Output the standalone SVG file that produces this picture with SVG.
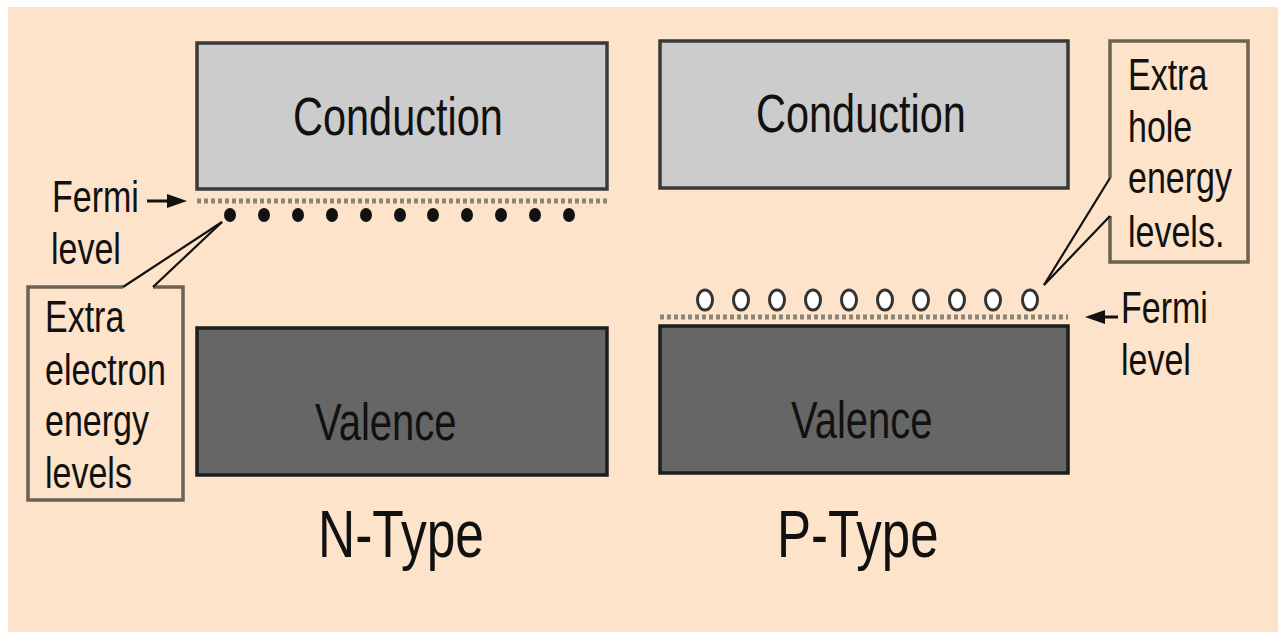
<svg xmlns="http://www.w3.org/2000/svg" width="1278" height="632" viewBox="0 0 1278 632">
<style>
  .t{font-family:"Liberation Sans",Arial,Helvetica,sans-serif;fill:#111}
  .cond{fill:#cccccc;stroke:#3a3a3a;stroke-width:3.5}
  .val{fill:#666666;stroke:#1e1e1e;stroke-width:3.5}
  .fermi{stroke:#8c8474;stroke-width:5;stroke-dasharray:4 3;fill:none}
  .lbl{fill:none;stroke:#6a6252;stroke-width:3.5}
  .lead{stroke:#111;stroke-width:2.2;fill:none}
  .el{fill:#111}
  .hole{fill:#ffffff;stroke:#333;stroke-width:3}
</style>
<rect x="0" y="0" width="1278" height="632" fill="#ffffff"/>
<rect x="8" y="7" width="1270" height="625" fill="#fde3c9"/>

<g id="n-conduction">
  <rect class="cond" x="197" y="43" width="410" height="146"/>
  <text class="t" font-size="41.5" transform="translate(293,135) scale(1,1.3)">Conduction</text>
</g>
<g id="n-valence">
  <rect class="val" x="197" y="328" width="410" height="147"/>
  <text class="t" font-size="40" transform="translate(315,440) scale(1,1.3)" fill="#1a1a1a">Valence</text>
</g>
<g id="n-fermi">
  <line class="fermi" x1="197" y1="201" x2="607" y2="201"/>
  <text class="t" font-size="34" transform="translate(52,212) scale(1,1.3)">Fermi</text>
  <text class="t" font-size="34" transform="translate(51,264) scale(1,1.3)">level</text>
</g>
<g id="n-electrons">
  <ellipse class="el" cx="230" cy="215" rx="6" ry="7"/>
  <ellipse class="el" cx="264" cy="215" rx="6" ry="7"/>
  <ellipse class="el" cx="298" cy="215" rx="6" ry="7"/>
  <ellipse class="el" cx="332" cy="215" rx="6" ry="7"/>
  <ellipse class="el" cx="366" cy="215" rx="6" ry="7"/>
  <ellipse class="el" cx="400" cy="215" rx="6" ry="7"/>
  <ellipse class="el" cx="433" cy="215" rx="6" ry="7"/>
  <ellipse class="el" cx="467" cy="215" rx="6" ry="7"/>
  <ellipse class="el" cx="501" cy="215" rx="6" ry="7"/>
  <ellipse class="el" cx="535" cy="215" rx="6" ry="7"/>
  <ellipse class="el" cx="569" cy="215" rx="6" ry="7"/>
</g>
<g id="n-label">
  <path class="lbl" d="M123,287 H28 V500 H183 V287 H153"/>
  <text class="t" font-size="34" transform="translate(45,332) scale(1,1.3)">Extra</text>
  <text class="t" font-size="34" transform="translate(45,385) scale(1,1.3)">electron</text>
  <text class="t" font-size="34" transform="translate(45,436) scale(1,1.3)">energy</text>
  <text class="t" font-size="34" transform="translate(45,488) scale(1,1.3)">levels</text>
</g>
<text id="n-type" class="t" font-size="51.5" transform="translate(318,557) scale(1,1.3)">N-Type</text>

<g id="p-conduction">
  <rect class="cond" x="660" y="41" width="408" height="147"/>
  <text class="t" font-size="41.5" transform="translate(756,132) scale(1,1.3)">Conduction</text>
</g>
<g id="p-valence">
  <rect class="val" x="660" y="326" width="408" height="147"/>
  <text class="t" font-size="40" transform="translate(791,438) scale(1,1.3)" fill="#1a1a1a">Valence</text>
</g>
<g id="p-fermi">
  <line class="fermi" x1="660" y1="317" x2="1068" y2="317"/>
  <text class="t" font-size="34" transform="translate(1121,323) scale(1,1.3)">Fermi</text>
  <text class="t" font-size="34" transform="translate(1121,375) scale(1,1.3)">level</text>
</g>
<g id="p-holes">
  <ellipse class="hole" cx="705" cy="300" rx="7.5" ry="10"/>
  <ellipse class="hole" cx="741" cy="300" rx="7.5" ry="10"/>
  <ellipse class="hole" cx="777" cy="300" rx="7.5" ry="10"/>
  <ellipse class="hole" cx="813" cy="300" rx="7.5" ry="10"/>
  <ellipse class="hole" cx="849" cy="300" rx="7.5" ry="10"/>
  <ellipse class="hole" cx="885" cy="300" rx="7.5" ry="10"/>
  <ellipse class="hole" cx="921" cy="300" rx="7.5" ry="10"/>
  <ellipse class="hole" cx="957" cy="300" rx="7.5" ry="10"/>
  <ellipse class="hole" cx="993" cy="300" rx="7.5" ry="10"/>
  <ellipse class="hole" cx="1030" cy="300" rx="7.5" ry="10"/>
</g>
<g id="p-label">
  <path class="lbl" d="M1110,178 V41 H1248 V262 H1110 V216"/>
  <text class="t" font-size="34" transform="translate(1128,90) scale(1,1.3)">Extra</text>
  <text class="t" font-size="34" transform="translate(1128,142) scale(1,1.3)">hole</text>
  <text class="t" font-size="34" transform="translate(1128,193) scale(1,1.3)">energy</text>
  <text class="t" font-size="34" transform="translate(1128,247) scale(1,1.3)">levels.</text>
</g>
<text id="p-type" class="t" font-size="51" transform="translate(777,557) scale(1,1.3)">P-Type</text>

<g id="connectors">
  <line class="lead" x1="222" y1="222" x2="123" y2="287"/>
  <line class="lead" x1="222" y1="222" x2="153" y2="287"/>
  <line class="lead" x1="1044" y1="285" x2="1110" y2="178"/>
  <line class="lead" x1="1044" y1="285" x2="1110" y2="216"/>
  <line x1="147" y1="201" x2="172" y2="201" stroke="#111" stroke-width="3"/>
  <polygon points="187,201 167,194 167,208" fill="#111"/>
  <line x1="1100" y1="317" x2="1118" y2="317" stroke="#111" stroke-width="3"/>
  <polygon points="1085,317 1105,310 1105,324" fill="#111"/>
</g>
</svg>
